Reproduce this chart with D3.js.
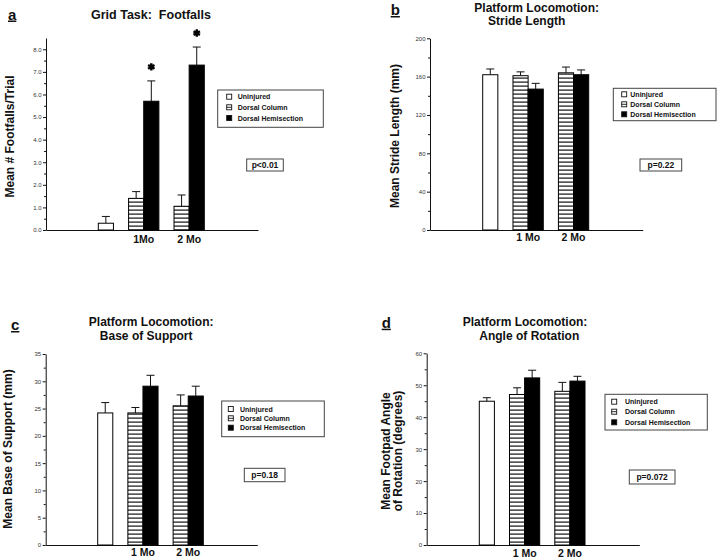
<!DOCTYPE html>
<html><head><meta charset="utf-8">
<script src="https://cdn.jsdelivr.net/npm/d3@7"></script>
<style>
body{margin:0;background:#fff}
svg{display:block}
text{font-family:"Liberation Sans",Arial,Helvetica,sans-serif;white-space:pre}
</style>
</head><body>
<svg id="chart" width="720" height="560"></svg>
<script>
// ---------- DATA ----------
const groups = ["Uninjured", "Dorsal Column", "Dorsal Hemisection"];
const slots = ["U", "gap1", "DC1", "DH1", "gap2", "DC2", "DH2"];
const barSlots = ["U", "DC1", "DH1", "DC2", "DH2"];
const barGroupIdx = [0, 1, 2, 1, 2];

const footfallsMean = [0.3, 1.4, 5.7, 1.05, 7.3];
const footfallsErr  = [0.3, 0.3, 0.9, 0.5, 0.8];
const footfallsStar = [false, false, true, false, true];
const footfallsTicks = [0, 1, 2, 3, 4, 5, 6, 7, 8];

const strideMean = [162, 161, 147, 164, 162];
const strideErr  = [6, 4, 6, 6, 5];
const strideTicks = [0, 40, 80, 120, 160, 200];

const baseMean = [24.2, 24.2, 29.1, 25.5, 27.3];
const baseErr  = [1.9, 1.0, 2.0, 2.0, 1.8];
const baseTicks = [0, 5, 10, 15, 20, 25, 30, 35];

const angleMean = [45.0, 47.1, 52.3, 48.1, 51.3];
const angleErr  = [1.1, 2.1, 2.4, 2.8, 1.5];
const angleTicks = [0, 10, 20, 30, 40, 50, 60];

// ---------- PANELS ----------
const panels = [
  {label: "a", title: ["Grid Task:  Footfalls"], yTitle: ["Mean # Footfalls/Trial"],
   means: footfallsMean, errs: footfallsErr, stars: footfallsStar,
   yMax: 8.5, ticks: footfallsTicks, minorStep: 0.5, fmt: d3.format(".1f"),
   times: ["1Mo", "2 Mo"], p: "p<0.01"},
  {label: "b", title: ["Platform Locomotion:", "Stride Length"], yTitle: ["Mean Stride Length (mm)"],
   means: strideMean, errs: strideErr, stars: null,
   yMax: 200, ticks: strideTicks, minorStep: 20, fmt: d3.format("d"),
   times: ["1 Mo", "2 Mo"], p: "p=0.22"},
  {label: "c", title: ["Platform Locomotion:", "Base of Support"], yTitle: ["Mean Base of Support (mm)"],
   means: baseMean, errs: baseErr, stars: null,
   yMax: 35, ticks: baseTicks, minorStep: 2.5, fmt: d3.format("d"),
   times: ["1 Mo", "2 Mo"], p: "p=0.18"},
  {label: "d", title: ["Platform Locomotion:", "Angle of Rotation"], yTitle: ["Mean Footpad Angle", "of Rotation (degrees)"],
   means: angleMean, errs: angleErr, stars: null,
   yMax: 60, ticks: angleTicks, minorStep: 5, fmt: d3.format("d"),
   times: ["1 Mo", "2 Mo"], p: "p=0.072"}
];

// ---------- LAYOUT ----------
const layouts = [
  {axisX: 46, x1: 258, y0: 230, yTop: 38, bars: [98.3, 204.3],
   labelPos: [8, 19.5], titlePos: [[151, 19.3]], yTitlePos: [[14, 136.5]],
   timeY: 242.7, legend: {x: 217.7, y: 90, w: 105.6, h: 37.3, rows: [96.7, 107.3, 118], sw: 9, tx: 20},
   pbox: {x: 246.7, y: 159, w: 36.6, h: 12}},
  {axisX: 430, x1: 642.7, y0: 230, yTop: 38.3, bars: [482.7, 588.7],
   labelPos: [390.7, 15], titlePos: [[536.7, 11.8], [526.7, 25.3]], yTitlePos: [[398.6, 136]],
   timeY: 240.7, legend: {x: 613.3, y: 88.3, w: 102.7, h: 32.4, rows: [94.3, 104.3, 114.3], sw: 8.4, tx: 17},
   pbox: {x: 640, y: 159, w: 41.7, h: 12}},
  {axisX: 45.7, x1: 257.3, y0: 545, yTop: 354, bars: [97.7, 203.3],
   labelPos: [11, 330], titlePos: [[151.2, 326.2], [146.2, 339.7]], yTitlePos: [[12, 449]],
   timeY: 556, legend: {x: 221.7, y: 401, w: 102.6, h: 35.7, rows: [409, 418.3, 427.7], sw: 6.6, tx: 18.3},
   pbox: {x: 244.3, y: 468.3, w: 40.7, h: 13.4}},
  {axisX: 426.7, x1: 639.3, y0: 545, yTop: 353.3, bars: [479.3, 585],
   labelPos: [381.7, 327.7], titlePos: [[525, 326.2], [529.3, 339.7]], yTitlePos: [[390.3, 451], [402.3, 451]],
   timeY: 556.5, legend: {x: 605, y: 394.3, w: 102.3, h: 35.7, rows: [401.7, 411.7, 422.3], sw: 6.7, tx: 20},
   pbox: {x: 629.3, y: 470, w: 45.7, h: 14}}
];

const svg = d3.select("#chart");
const defs = svg.append("defs");
const pat = defs.append("pattern").attr("id", "hstripe")
  .attr("patternUnits", "userSpaceOnUse").attr("width", 8).attr("height", 4);
pat.append("rect").attr("width", 8).attr("height", 4).attr("fill", "#fff");
pat.append("rect").attr("y", 1.5).attr("width", 8).attr("height", 1.2).attr("fill", "#111");

const fills = ["#fff", "url(#hstripe)", "#000"];

panels.forEach((cfg, pi) => {
  const L = layouts[pi];
  const g = svg.append("g");
  const y = d3.scaleLinear().domain([0, cfg.yMax]).range([L.y0, L.yTop]);
  const x = d3.scaleBand().domain(slots).range(L.bars).padding(0);
  const bw = x.bandwidth();

  // y axis: major ticks
  const ya = g.append("g").attr("transform", `translate(${L.axisX},0)`)
    .call(d3.axisLeft(y).tickValues(cfg.ticks).tickSize(3).tickSizeOuter(0).tickPadding(1.5).tickFormat(cfg.fmt));
  ya.select(".domain").attr("stroke", "#111").attr("stroke-width", 1);
  ya.selectAll(".tick line").attr("stroke", "#111");
  ya.selectAll(".tick text").attr("font-size", 6).attr("fill", "#333").attr("font-family", "'Liberation Sans',Arial,sans-serif");

  // minor ticks
  const minor = d3.range(cfg.minorStep, cfg.yMax, cfg.minorStep * 2).filter(v => v < cfg.ticks[cfg.ticks.length - 1]);
  const ym = g.append("g").attr("transform", `translate(${L.axisX},0)`)
    .call(d3.axisLeft(y).tickValues(minor).tickSize(2).tickSizeOuter(0).tickFormat(""));
  ym.select(".domain").remove();
  ym.selectAll(".tick line").attr("stroke", "#111");

  // x axis baseline
  const xb = d3.scaleLinear().domain([0, 1]).range([L.axisX, L.x1]);
  g.append("g").attr("transform", `translate(0,${L.y0})`)
    .call(d3.axisBottom(xb).tickValues([]).tickSizeOuter(0))
    .select(".domain").attr("stroke", "#111").attr("stroke-width", 1);

  const data = barSlots.map((k, i) => ({key: k, mean: cfg.means[i], err: cfg.errs[i], grp: barGroupIdx[i],
    star: cfg.stars ? cfg.stars[i] : false}));

  // error bars (behind bars)
  const eb = g.append("g").attr("stroke", "#111").attr("stroke-width", 1);
  eb.selectAll("line.v").data(data).join("line").attr("class", "v")
    .attr("x1", d => x(d.key) + bw / 2).attr("x2", d => x(d.key) + bw / 2)
    .attr("y1", d => y(d.mean)).attr("y2", d => y(d.mean + d.err));
  eb.selectAll("line.c").data(data).join("line").attr("class", "c")
    .attr("x1", d => x(d.key) + bw / 2 - 4).attr("x2", d => x(d.key) + bw / 2 + 4)
    .attr("y1", d => y(d.mean + d.err)).attr("y2", d => y(d.mean + d.err));

  // bars
  g.selectAll("rect.bar").data(data).join("rect").attr("class", "bar")
    .attr("x", d => x(d.key)).attr("width", bw)
    .attr("y", d => y(d.mean)).attr("height", d => y(0) - y(d.mean))
    .attr("fill", d => fills[d.grp]).attr("stroke", "#000").attr("stroke-width", 1);

  // stars
  g.selectAll("path.star").data(data.filter(d => d.star)).join("path").attr("class", "star")
    .attr("transform", d => `translate(${x(d.key) + bw / 2},${y(d.mean + d.err) - 14})`)
    .attr("d", d3.symbol(d3.symbolAsterisk, 38))
    .attr("stroke", "#000").attr("stroke-width", 2.4).attr("fill", "none");

  // time labels
  g.selectAll("text.time").data(cfg.times).join("text").attr("class", "time")
    .attr("x", (t, i) => x(i === 0 ? "DH1" : "DH2"))
    .attr("y", L.timeY).attr("text-anchor", "middle")
    .attr("font-size", 10.5).attr("font-weight", "bold").attr("fill", "#111").text(t => t);

  // panel label
  g.append("text").attr("x", L.labelPos[0]).attr("y", L.labelPos[1])
    .attr("font-size", 15).attr("font-weight", "bold").attr("text-decoration", "underline")
    .attr("fill", "#111").text(cfg.label);

  // title
  const tSize = cfg.title.length > 1 ? 12 : 12.5;
  cfg.title.forEach((t, i) => {
    g.append("text").attr("x", L.titlePos[i][0]).attr("y", L.titlePos[i][1])
      .attr("text-anchor", "middle").attr("font-size", tSize).attr("font-weight", "bold")
      .attr("fill", "#111").attr("xml:space", "preserve").text(t);
  });

  // y title
  cfg.yTitle.forEach((t, i) => {
    const [tx, ty] = L.yTitlePos[i];
    g.append("text").attr("transform", `translate(${tx},${ty}) rotate(-90)`)
      .attr("text-anchor", "middle").attr("font-size", 12).attr("font-weight", "bold")
      .attr("fill", "#111").text(t);
  });

  // legend
  const lg = L.legend;
  g.append("rect").attr("x", lg.x).attr("y", lg.y).attr("width", lg.w).attr("height", lg.h)
    .attr("fill", "#fff").attr("stroke", "#444").attr("stroke-width", 1);
  groups.forEach((name, i) => {
    const cy = lg.rows[i];
    const sx = lg.x + lg.sw;
    if (i === 1) {
      g.append("rect").attr("x", sx).attr("y", cy - 2.5).attr("width", 5).attr("height", 5)
        .attr("fill", "#fff").attr("stroke", "#111").attr("stroke-width", 0.9);
      g.append("line").attr("x1", sx).attr("x2", sx + 5).attr("y1", cy).attr("y2", cy)
        .attr("stroke", "#111").attr("stroke-width", 0.9);
    } else {
      g.append("rect").attr("x", sx).attr("y", cy - 2.5).attr("width", 5).attr("height", 5)
        .attr("fill", fills[i]).attr("stroke", "#111").attr("stroke-width", 0.9);
    }
    g.append("text").attr("x", lg.x + lg.tx).attr("y", cy + 2.5)
      .attr("font-size", 7).attr("font-weight", "bold").attr("fill", "#111").text(name);
  });

  // p box
  const pb = L.pbox;
  g.append("rect").attr("x", pb.x).attr("y", pb.y).attr("width", pb.w).attr("height", pb.h)
    .attr("fill", "#fff").attr("stroke", "#444").attr("stroke-width", 1);
  g.append("text").attr("x", pb.x + pb.w / 2).attr("y", pb.y + pb.h / 2 + 3)
    .attr("text-anchor", "middle").attr("font-size", 8.5).attr("font-weight", "bold")
    .attr("fill", "#111").text(cfg.p);
});
</script>
</body></html>
